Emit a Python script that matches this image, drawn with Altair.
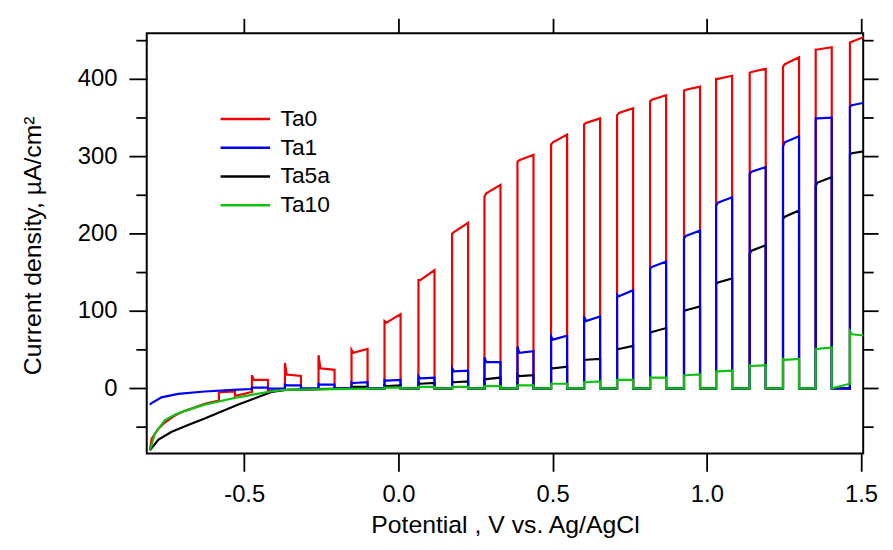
import altair as alt
import numpy as np
import pandas as pd

FONT = "Liberation Sans"
SERIES = ["Ta0", "Ta1", "Ta5a", "Ta10"]
COLORS = ["#f00000", "#0000f0", "#000000", "#10c010"]

X_TICKS = [-0.5, 0.0, 0.5, 1.0, 1.5]
Y_TICKS = [-50, 0, 50, 100, 150, 200, 250, 300, 350, 400, 450]

# chopped illumination: light-on / light-off potentials (V vs Ag/AgCl)
LIGHT_ON = [-0.582, -0.475, -0.368, -0.259, -0.152, -0.045, 0.065, 0.174, 0.279, 0.386,
            0.495, 0.602, 0.709, 0.816, 0.926, 1.030, 1.139, 1.247, 1.353, 1.464]
LIGHT_OFF = [-0.530, -0.423, -0.316, -0.207, -0.100, 0.007, 0.117, 0.226, 0.331, 0.438,
             0.547, 0.654, 0.761, 0.868, 0.978, 1.082, 1.191, 1.299, 1.405, 1.520]

# dark-current curves (potential, current density)
RED_DARK_V = [-0.806, -0.800, -0.778, -0.757, -0.720, -0.692, -0.650, -0.628, -0.586,
              -0.530, -0.500, -0.480, -0.420, -0.350, -0.250, -0.150, 1.550]
RED_DARK_J = [-80, -65, -52, -44, -34, -29, -23, -20, -16, -9.5, -7, -5, -3, -2, -1, 0, 0]

BLUE_DARK_V = [-0.806, -0.800, -0.768, -0.714, -0.628, -0.521, -0.450, -0.350, 1.550]
BLUE_DARK_J = [-21, -19, -11.5, -7, -4, -1.5, -0.5, 0, 0]

BLACK_DARK_V = [-0.806, -0.778, -0.735, -0.680, -0.628, -0.575, -0.521, -0.468, -0.414,
                -0.370, -0.330, -0.250, 1.550]
BLACK_DARK_J = [-80, -66, -56, -47, -39, -30, -21, -12, -5, -2, -0.5, 0, 0]

GREEN_DARK_V = [-0.806, -0.789, -0.757, -0.720, -0.692, -0.628, -0.570, -0.521, -0.470,
                -0.414, -0.370, -0.330, -0.250, 1.405, 1.464, 1.550]
GREEN_DARK_J = [-80, -58, -41, -33, -29, -21, -16, -11.5, -7, -4, -2, -0.5, 0, 0, 6, 6]

# photocurrent plateaus: value at light-on, settled value, value at light-off
RED_PEAK = [-6, 17, 33, 43, 50, 87, 140, 200, 248, 293, 315, 341, 353, 371, 385, 400, 408, 416, 438, 447]
RED_SETTLE = [-5, 11, 18, 26, 46, 85, 140, 202, 252, 295, 318, 343, 356, 373, 386, 400, 409, 419, 438, 448]
RED_END = [-4, 11, 16, 24, 51, 96, 153, 214, 263, 302, 328, 349, 362, 379, 390, 404, 413, 428, 441, 456]

BLUE_PEAK = [None, 1, 5, 6, 8, 11, 16, 26, 40, 54, 67, 93, 121, 155, 194, 236, 277, 313, 349, 364]
BLUE_SETTLE = [None, 1, 4, 5, 7, 10, 13, 22, 34, 46, 63, 87, 119, 157, 197, 240, 280, 318, 349, 366]
BLUE_END = [None, 1, 4, 5, 8, 11, 14, 23, 34, 48, 68, 93, 127, 164, 204, 247, 286, 326, 350, 370]

BLACK_PEAK = [None, None, None, None, 2, 4, 7, 9, 13, 18, 27, 37, 51, 72, 100, 135, 174, 219, 262, 302]
BLACK_SETTLE = [None, None, None, None, 2, 3, 6, 8, 12, 16, 26, 37, 51, 73, 101, 137, 178, 222, 266, 304]
BLACK_END = [None, None, None, None, 2, 4, 7, 9, 14, 17, 28, 38, 55, 78, 106, 142, 185, 230, 273, 307]

GREEN_PEAK = [None, None, None, None, None, 1, 2, 2, 3, 4, 6, 8, 11, 14, 17, 22, 30, 38, 51, 74]
GREEN_SETTLE = [None, None, None, None, None, 1, 2, 2, 3, 4, 6, 8, 11, 14, 17, 22, 29, 37, 51, 70]
GREEN_END = [None, None, None, None, None, 1, 2, 2, 3, 4, 6, 9, 11, 14, 18, 23, 30, 38, 53, 68]


def build(name, dv, dj, peak, settle, end):
    ev = []
    for v, j in zip(dv, dj):
        if not any(a <= v <= b for a, b in zip(LIGHT_ON, LIGHT_OFF)):
            ev.append((v, 0, j))
    for k, (a, b) in enumerate(zip(LIGHT_ON, LIGHT_OFF)):
        if peak[k] is None:
            continue
        ev += [(a, 1, float(np.interp(a, dv, dj))), (a, 2, peak[k]),
               (a + 0.006, 3, settle[k]), (b, 4, end[k]),
               (b, 5, float(np.interp(b, dv, dj)))]
    ev.sort()
    return pd.DataFrame({"series": name, "v": [e[0] for e in ev],
                         "j": [e[2] for e in ev], "idx": range(len(ev))})


df = pd.concat([
    build("Ta0", RED_DARK_V, RED_DARK_J, RED_PEAK, RED_SETTLE, RED_END),
    build("Ta1", BLUE_DARK_V, BLUE_DARK_J, BLUE_PEAK, BLUE_SETTLE, BLUE_END),
    build("Ta5a", BLACK_DARK_V, BLACK_DARK_J, BLACK_PEAK, BLACK_SETTLE, BLACK_END),
    build("Ta10", GREEN_DARK_V, GREEN_DARK_J, GREEN_PEAK, GREEN_SETTLE, GREEN_END),
], ignore_index=True)

xscale = alt.Scale(domain=[-0.816, 1.507], nice=False, zero=False)
yscale = alt.Scale(domain=[-84, 459], nice=False, zero=False)
cscale = alt.Scale(domain=SERIES, range=COLORS)

legend = alt.Legend(title=None, orient="none", legendX=88, legendY=75,
                    symbolType="M-5,0H5", symbolSize=100, symbolStrokeWidth=2.5,
                    labelOffset=24, labelFontSize=23, labelFont=FONT,
                    labelColor="black", rowPadding=5, padding=0)

major_y = "datum.value % 100 === 0"

common = dict(grid=False, domain=False, ticks=True, tickColor="black", tickWidth=1.8,
              labelColor="black", labelFont=FONT, titleFont=FONT,
              titleFontWeight="normal", titleColor="black")

x_bottom = alt.Axis(orient="bottom", values=X_TICKS, tickSize=18,
                    labelExpr="datum.value < 0 ? '-' + format(-datum.value, '.1f') : format(datum.value, '.1f')",
                    labelPadding=12, labelFontSize=24, labelFlush=False,
                    title="Potential , V vs. Ag/AgCl", titleFontSize=25,
                    titleY=80, titleBaseline="alphabetic", **common)
y_left = alt.Axis(orient="left", values=Y_TICKS,
                  labelExpr=f"{major_y} ? format(datum.value, 'd') : ''",
                  tickSize={"condition": {"test": major_y, "value": 18}, "value": 11},
                  labelPadding=12, labelFontSize=24, labelFlush=False,
                  title="Current density, µA/cm²", titleFontSize=25,
                  titleX=-107, titleY=214, titleAngle=-90, titleAlign="center",
                  titleBaseline="alphabetic", **common)
x_top = alt.Axis(orient="top", values=X_TICKS, labels=False, tickSize=15, title=None,
                 **common)
y_right = alt.Axis(orient="right", values=Y_TICKS, labels=False,
                   tickSize={"condition": {"test": major_y, "value": 15}, "value": 10},
                   title=None, **common)

base = alt.Chart(df)


def layer(name, xa, ya):
    return base.transform_filter(alt.datum.series == name).mark_line(
        strokeWidth=2.2, clip=True, interpolate="linear"
    ).encode(
        x=alt.X("v:Q", scale=xscale, axis=xa),
        y=alt.Y("j:Q", scale=yscale, axis=ya),
        color=alt.Color("series:N", scale=cscale, legend=legend),
        order=alt.Order("idx:Q"),
    )


chart = alt.layer(
    layer("Ta0", x_bottom, y_left),
    layer("Ta5a", x_top, y_right),
    layer("Ta1", None, None),
    layer("Ta10", None, None),
).resolve_axis(x="independent", y="independent").properties(
    width=723, height=424, autosize="none", background="white",
    padding={"left": 140, "top": 23, "right": 22, "bottom": 95},
).configure_view(stroke="black", strokeWidth=2)

chart.save("out.html", embed_options={"renderer": "svg", "actions": False})
